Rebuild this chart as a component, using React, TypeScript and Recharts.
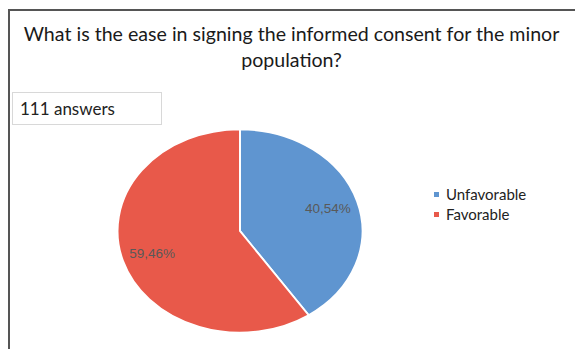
import React from "react";
import { PieChart, Pie, Cell } from "recharts";

const categories = ["Unfavorable", "Favorable"];
const values = [45, 66];
const colors = ["#5f95d0", "#e8594a"];
const titleLines = ["What is the ease in signing the informed consent for the minor", "population?"];
const answersLabel = "111 answers";

const total = values.reduce((a, b) => a + b, 0);
const data = categories.map((name, i) => ({ name, value: values[i] }));

const SY = 0.829;
const PIE_SIZE = 246;

const fmt = (v: number) => ((v / total) * 100).toFixed(2).replace(".", ",") + "%";

const renderLabel = (props: any) => {
  const { cx, cy, midAngle, outerRadius, value } = props;
  const r = outerRadius * 0.75;
  const rad = (Math.PI / 180) * midAngle;
  const x = cx + r * Math.cos(rad);
  const y = cy - r * Math.sin(rad);
  return (
    <text
      x={x}
      y={y}
      textAnchor="middle"
      dominantBaseline="central"
      fill="#595959"
      fontSize={13.5}
      fontFamily="'Liberation Sans', Arial, sans-serif"
      transform={`translate(${x},${y}) scale(1,${1 / SY}) translate(${-x},${-y})`}
    >
      {fmt(value)}
    </text>
  );
};

export default function App() {
  return (
    <div style={{ position: "absolute", left: 0, top: 0, width: 575, height: 349, background: "#fff", overflow: "hidden", fontFamily: "Lato, 'Open Sans', sans-serif", color: "#222" }}>
      <div style={{ position: "absolute", left: 8, top: 9, width: 565, height: 360, borderLeft: "2px solid #555", borderTop: "2px solid #555", borderRight: "1px solid #ddd" }} />
      <div style={{ position: "absolute", left: 10, top: 21, width: 563, textAlign: "center", fontSize: 19.6, lineHeight: "26px", color: "#1a1a1a" }}>
        <div>{titleLines[0]}</div>
        <div>{titleLines[1]}</div>
      </div>
      <div style={{ position: "absolute", left: 12, top: 92, width: 150, height: 33, border: "1px solid #d8d8d8", boxSizing: "border-box" }}>
        <div style={{ position: "absolute", left: 7, top: 5, fontSize: 17, color: "#222" }}>{answersLabel}</div>
      </div>
      <div style={{ position: "absolute", left: 239.5 - PIE_SIZE / 2, top: 230.5 - PIE_SIZE / 2, width: PIE_SIZE, height: PIE_SIZE, transform: `scaleY(${SY})`, transformOrigin: "50% 50%" }}>
        <PieChart width={PIE_SIZE} height={PIE_SIZE} margin={{ top: 0, right: 0, bottom: 0, left: 0 }}>
          <Pie
            data={data}
            dataKey="value"
            nameKey="name"
            cx={PIE_SIZE / 2}
            cy={PIE_SIZE / 2}
            outerRadius={122.5}
            startAngle={90}
            endAngle={-270}
            stroke="#ffffff"
            strokeWidth={2}
            label={renderLabel}
            labelLine={false}
            isAnimationActive={false}
          >
            {data.map((d, i) => (
              <Cell key={d.name} fill={colors[i]} />
            ))}
          </Pie>
        </PieChart>
      </div>
      <div style={{ position: "absolute", left: 434, top: 184 }}>
        {data.map((d, i) => (
          <div key={d.name} style={{ display: "flex", alignItems: "center", height: 20, fontSize: 15, color: "#222" }}>
            <span style={{ display: "inline-block", width: 5, height: 5, background: colors[i], marginRight: 7 }} />
            <span>{d.name}</span>
          </div>
        ))}
      </div>
    </div>
  );
}
